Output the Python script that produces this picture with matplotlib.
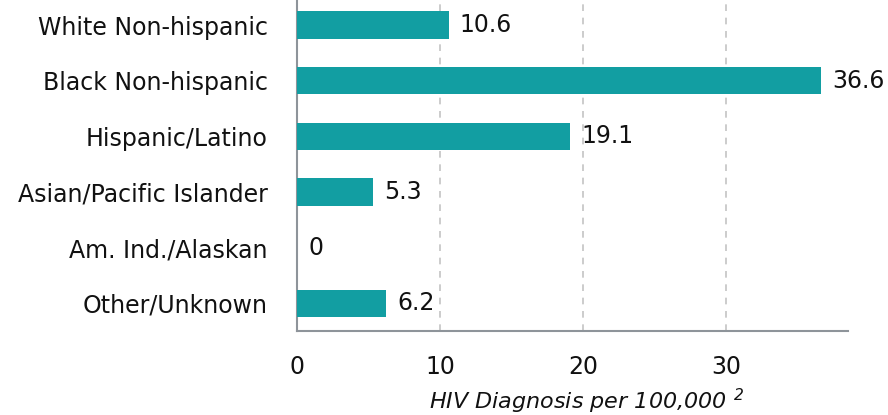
import matplotlib
matplotlib.use("Agg")
import matplotlib.pyplot as plt

# data
groups = ["White Non-hispanic", "Black Non-hispanic", "Hispanic/Latino",
          "Asian/Pacific Islander", "Am. Ind./Alaskan", "Other/Unknown"]
rates = [10.6, 36.6, 19.1, 5.3, 0, 6.2]
value_labels = ["10.6", "36.6", "19.1", "5.3", "0", "6.2"]
xticks = [0, 10, 20, 30]

teal = "#129EA2"
spine_col = "#8E949A"

plt.rcParams["font.family"] = ["DejaVu Sans"]
plt.rcParams["mathtext.default"] = "regular"

fig = plt.figure(figsize=(8.88, 4.15), dpi=100)
ax = fig.add_axes([0.3345, 0.2024, 0.6205, 0.7976])

ypos = list(range(len(groups)))
ax.barh(ypos, rates, height=0.49, color=teal, zorder=3)

for y, v, lab in zip(ypos, rates, value_labels):
    ax.annotate(lab, (v, y), xytext=(8, 0), textcoords="offset points",
                va="center", ha="left", fontsize=17, color="#111111")

ax.set_xlim(0, 38.5)
ax.set_ylim(5.5, -0.45)
ax.set_yticks(ypos)
ax.set_yticklabels(groups, fontsize=17, color="#111111")
ax.set_xticks(xticks)
ax.set_xticklabels([str(t) for t in xticks], fontsize=17, color="#111111")
ax.tick_params(axis="y", length=0, pad=21)
ax.tick_params(axis="x", length=0, pad=17)

ax.grid(axis="x", linestyle=(0, (4, 4)), color="#C4C4C4", linewidth=1.2, zorder=0)
ax.grid(axis="y", visible=False)
# no grid line at 0
ax.get_xgridlines()[0].set_visible(False)

for s in ["top", "right"]:
    ax.spines[s].set_visible(False)
for s in ["left", "bottom"]:
    ax.spines[s].set_color(spine_col)
    ax.spines[s].set_linewidth(1.5)

ax.set_xlabel("HIV Diagnosis per 100,000 $^{2}$", fontsize=16, style="italic",
              color="#111111")
ax.xaxis.set_label_coords(0.525, -0.17)

fig.savefig("out.png", dpi=100)
